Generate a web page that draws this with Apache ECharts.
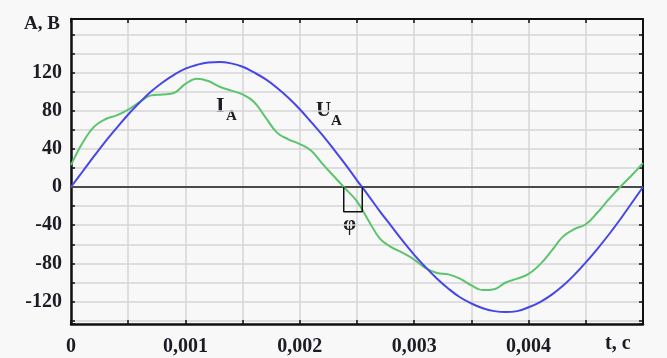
<!DOCTYPE html>
<html>
<head>
<meta charset="utf-8">
<script src="https://cdn.jsdelivr.net/npm/echarts@6/dist/echarts.min.js"></script>
<style>
  html, body { margin: 0; padding: 0; background: #f8f8f8; }
  #chart { width: 667px; height: 358px; }
</style>
</head>
<body>
<div id="chart"></div>
<script>
// time samples, step 0.0001 s over one period
const timeStep = 0.0001;
const sampleCount = 51;

// phase voltage U_A, V
const voltageU = [
  0, 16, 32, 47.5, 62, 76, 88.5, 100, 109.5, 117.5,
  124, 128, 130.5, 131, 129.5, 126, 120, 113, 104, 93.5,
  81.5, 68, 54, 39, 23.5, 7, -9, -25.5, -41, -56.5,
  -71, -84, -96, -106.5, -115.5, -122, -127, -130, -131, -130,
  -126, -120.5, -113, -103.5, -92, -79, -65, -50, -34, -17, 0
];

// phase current I_A, A
const currentI = [
  23, 46, 63, 71, 75, 81, 89, 96, 97, 98.5,
  108, 113.5, 111, 105, 101, 97, 89, 73, 57, 50,
  45, 38, 24, 11, -2, -15, -35, -54, -63, -69,
  -76, -85, -90, -91.5, -96, -103, -108, -107, -100, -96,
  -91, -81, -67, -52, -44, -39, -27, -13, 0, 12, 25
];

// phase shift bracket between the zero crossings of I_A and U_A
const phaseT = [0.002384, 0.002546];
const phaseDepth = -26;

// tick labels
const xTickValues = [0, 0.001, 0.002, 0.003, 0.004];
const xTickLabels = ['0', '0,001', '0,002', '0,003', '0,004'];
const yTickLabels = [-120, -80, -40, 0, 40, 80, 120];

const times = [];
for (let i = 0; i < sampleCount; i++) times.push(+(i * timeStep).toFixed(4));
const pairs = (vals) => vals.map((v, i) => [times[i], v]);

const serif = '"Liberation Serif", "DejaVu Serif", serif';
const ink = '#1c1c24';

const chart = echarts.init(document.getElementById('chart'));

const gridLine = { show: true, lineStyle: { color: '#d6d6d6', width: 1.5 } };
const frameLine = (w) => ({ show: true, onZero: false, lineStyle: { color: '#111', width: w } });

chart.setOption({
  backgroundColor: '#f8f8f8',
  animation: false,
  grid: { left: 71, right: 24, top: 19, bottom: 34, containLabel: false },
  xAxis: [
    {
      type: 'value', min: 0, max: 0.005, interval: 0.0005,
      axisLine: frameLine(2.5),
      axisTick: { show: true, inside: true, length: 4, lineStyle: { color: '#111', width: 1.5 } },
      splitLine: gridLine,
      axisLabel: {
        margin: 13, color: ink, fontFamily: serif, fontWeight: 'bold', fontSize: 20,
        formatter: (v) => {
          const i = xTickValues.findIndex((x) => Math.abs(x - v) < 1e-7);
          return i >= 0 ? xTickLabels[i] : '';
        }
      }
    },
    {
      type: 'value', position: 'top', min: 0, max: 0.005, interval: 0.0005,
      axisLine: frameLine(2),
      axisTick: { show: true, inside: true, length: 4, lineStyle: { color: '#111', width: 1.5 } },
      splitLine: { show: false },
      axisLabel: { show: false }
    }
  ],
  yAxis: [
    {
      type: 'value', min: -143.5, max: 176, splitNumber: 16, minInterval: 20, maxInterval: 20,
      axisLine: frameLine(2.5),
      axisTick: { show: true, inside: true, length: 4, lineStyle: { color: '#111', width: 1.5 } },
      splitLine: gridLine,
      axisLabel: {
        margin: 9, color: ink, fontFamily: serif, fontWeight: 'bold', fontSize: 20,
        formatter: (v) => (yTickLabels.indexOf(Math.round(v)) >= 0 && Math.abs(v - Math.round(v)) < 1e-6) ? String(Math.round(v)) : ''
      }
    },
    {
      type: 'value', position: 'right', min: -143.5, max: 176, splitNumber: 16, minInterval: 20, maxInterval: 20,
      axisLine: frameLine(2),
      axisTick: { show: true, inside: true, length: 4, lineStyle: { color: '#111', width: 1.5 } },
      splitLine: { show: false },
      axisLabel: { show: false }
    }
  ],
  series: [
    {
      name: 'zero', type: 'line', z: 1, silent: true, symbol: 'none',
      data: [[0, 0], [0.005, 0]],
      lineStyle: { color: '#4a4a4a', width: 2 }
    },
    {
      name: 'I_A', type: 'line', z: 3, smooth: 0.4, symbol: 'none',
      data: pairs(currentI),
      lineStyle: { color: '#5cc46c', width: 2 }
    },
    {
      name: 'U_A', type: 'line', z: 4, smooth: 0.4, symbol: 'none',
      data: pairs(voltageU),
      lineStyle: { color: '#4747e8', width: 2 }
    },
    {
      name: 'phi', type: 'line', z: 5, silent: true, symbol: 'none',
      data: [[phaseT[0], 0], [phaseT[0], phaseDepth], [phaseT[1], phaseDepth], [phaseT[1], 0]],
      lineStyle: { color: '#111', width: 1.5 }
    }
  ],
  graphic: [
    { type: 'text', right: 667 - 60, top: 15,
      style: { text: 'A, B', fontFamily: serif, fontWeight: 'bold', fontSize: 19, fill: ink } },
    { type: 'text', left: 605, top: 334,
      style: { text: 't, c', fontFamily: serif, fontWeight: 'bold', fontSize: 20, fill: ink } },
    { type: 'text', left: 216, top: 95,
      style: { text: 'I', fontFamily: serif, fontWeight: 'bold', fontSize: 22, fill: ink } },
    { type: 'text', left: 226, top: 109,
      style: { text: 'A', fontFamily: serif, fontWeight: 'bold', fontSize: 15, fill: ink } },
    { type: 'text', left: 316, top: 100,
      style: { text: 'U', fontFamily: serif, fontWeight: 'bold', fontSize: 21, fill: ink } },
    { type: 'text', left: 331, top: 114,
      style: { text: 'A', fontFamily: serif, fontWeight: 'bold', fontSize: 15, fill: ink } },
    { type: 'text', left: 343, top: 214,
      style: { text: 'φ', fontFamily: serif, fontWeight: 'bold', fontSize: 21, fill: ink } }
  ]
});
</script>
</body>
</html>
